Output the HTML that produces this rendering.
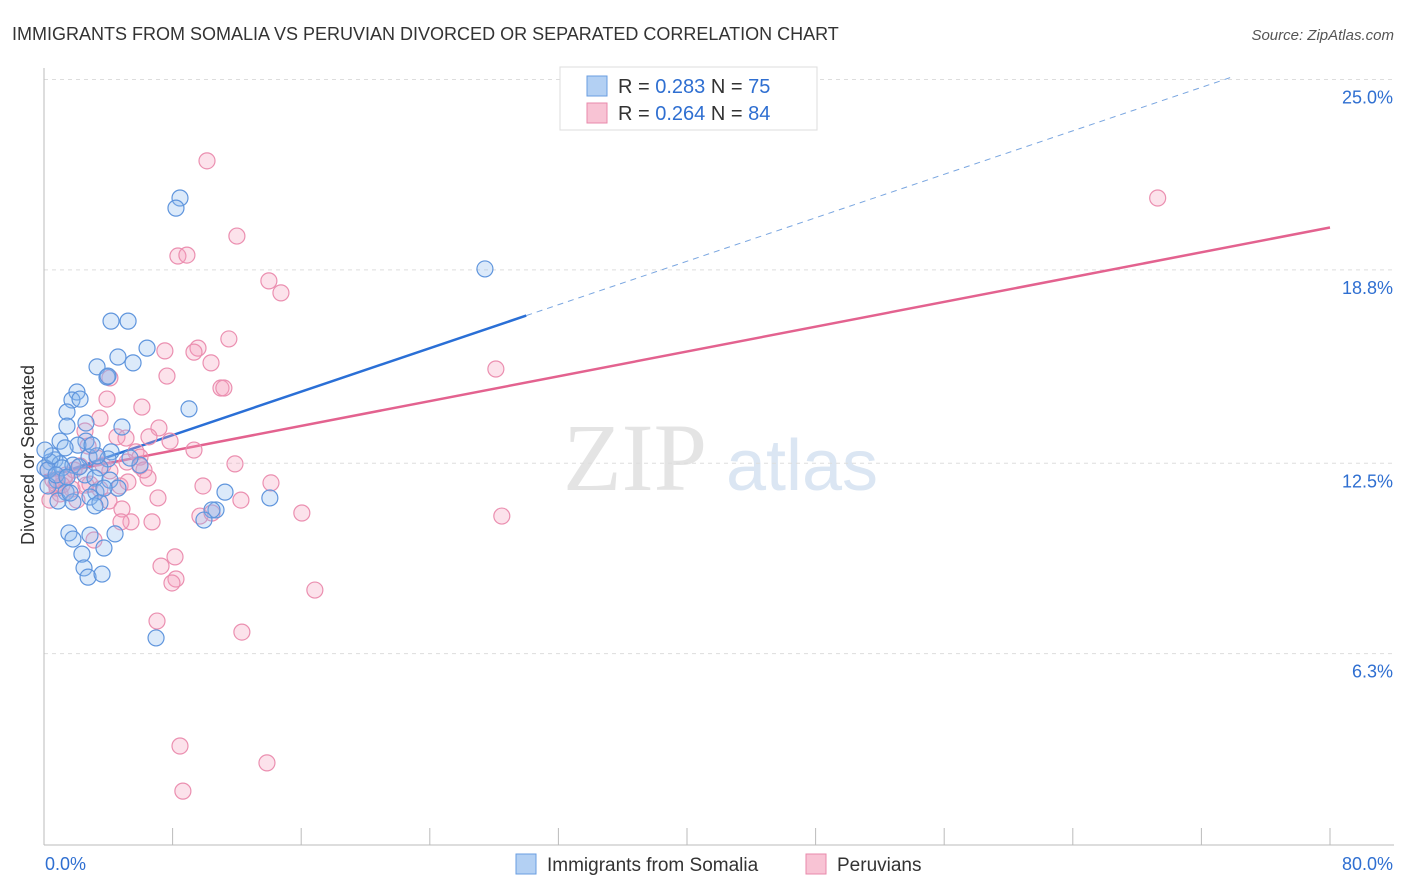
<!DOCTYPE html>
<html><head><meta charset="utf-8"><style>
body{margin:0;background:#fff;font-family:"Liberation Sans",sans-serif}
svg{display:block}
</style></head><body>
<svg id="chart" width="1406" height="892" xmlns="http://www.w3.org/2000/svg">
<text x="12" y="40" font-size="18" fill="#333">IMMIGRANTS FROM SOMALIA VS PERUVIAN DIVORCED OR SEPARATED CORRELATION CHART</text>
<text x="1394" y="40" font-size="15" fill="#555" font-style="italic" text-anchor="end">Source: ZipAtlas.com</text>
<g>
<text x="635" y="490" font-size="96" fill="#e4e4e4" font-family="Liberation Serif,serif" text-anchor="middle">ZIP</text>
<text x="802" y="490" font-size="72" fill="#dbe6f3" text-anchor="middle">atlas</text>
</g>
<g id="grid"></g>
<g id="axes"></g>
<g id="lines"></g>
<g id="points"></g>
<g>
<rect x="560" y="67" width="257" height="63" fill="#fff" stroke="#ddd"/>
<rect x="587" y="76" width="20" height="20" fill="#b3d0f3" stroke="#6a9ee0"/>
<rect x="587" y="103" width="20" height="20" fill="#f8c3d4" stroke="#e88aab"/>
<text x="618" y="93" font-size="20" fill="#333">R = <tspan fill="#2f6fd1">0.283</tspan>   N = <tspan fill="#2f6fd1">75</tspan></text>
<text x="618" y="120" font-size="20" fill="#333">R = <tspan fill="#2f6fd1">0.264</tspan>   N = <tspan fill="#2f6fd1">84</tspan></text>
</g>
<g>
<rect x="516" y="854" width="20" height="20" fill="#b3d0f3" stroke="#6a9ee0"/>
<text x="547" y="871" font-size="19" fill="#333">Immigrants from Somalia</text>
<rect x="806" y="854" width="20" height="20" fill="#f8c3d4" stroke="#e88aab"/>
<text x="837" y="871" font-size="19" fill="#333">Peruvians</text>
</g>
<text transform="translate(34,455) rotate(-90)" font-size="18" fill="#333" text-anchor="middle">Divorced or Separated</text>
</svg>
<script>
const yTicks=[25.0,18.8,12.5,6.3];
const yTickLabels=["25.0%","18.8%","12.5%","6.3%"];
const xTickValues=[0,8,16,24,32,40,48,56,64,72,80];
const xEndLabels=["0.0%","80.0%"];
const blueX=[8.46,8.21,27.43,4.17,5.23,6.41,4.60,5.54,3.30,3.92,2.05,1.74,2.24,9.02,1.43,1.43,4.85,2.61,1.00,2.61,2.11,1.31,4.17,2.80,3.98,0.68,0.37,1.00,1.80,0.06,3.48,5.97,2.55,3.17,0.81,4.10,0.25,4.60,1.37,3.23,2.86,3.48,0.87,1.80,3.17,11.26,14.05,10.70,10.45,9.95,1.55,1.80,4.42,2.86,3.73,2.36,2.49,2.74,3.61,6.97,0.25,0.50,1.12,0.75,2.18,1.43,3.73,3.30,5.35,0.06,3.98,2.99,1.62];
const blueY=[21.14,20.81,18.83,17.13,17.13,16.25,15.96,15.77,15.64,15.31,14.82,14.56,14.59,14.27,14.17,13.71,13.68,13.81,13.22,13.22,13.09,13.00,12.87,12.70,12.64,12.61,12.54,12.48,12.44,12.35,12.35,12.44,12.12,12.02,11.95,11.95,11.76,11.69,11.56,11.56,11.40,11.21,11.27,11.24,11.11,11.56,11.37,10.98,10.98,10.65,10.23,10.03,10.20,10.16,9.74,9.54,9.09,8.79,8.89,6.81,12.28,12.74,12.35,12.12,12.38,12.05,11.69,12.74,12.67,12.93,15.34,13.09,11.53];
const pinkX=[10.14,69.28,12.00,8.33,8.89,13.99,14.74,11.50,9.58,7.52,9.33,10.39,28.11,7.65,4.10,11.01,11.19,3.92,6.09,3.48,2.55,7.15,6.53,4.54,7.84,5.10,9.33,5.72,5.97,5.16,11.88,2.24,5.97,0.25,1.37,6.47,2.86,14.12,4.73,9.89,0.81,1.74,3.48,1.00,7.09,12.25,4.04,0.37,2.05,4.85,16.04,28.48,9.70,6.72,5.41,4.79,10.45,3.11,8.15,7.28,8.21,7.96,16.85,7.03,12.31,8.46,13.87,8.64,1.24,0.75,2.61,1.87,4.10,3.30,3.67,5.22,6.22,2.74,0.56,1.12];
const pinkY=[22.35,21.14,19.90,19.25,19.28,18.44,18.05,16.55,16.25,16.16,16.12,15.77,15.57,15.34,15.28,14.95,14.95,14.59,14.33,13.97,13.55,13.65,13.36,13.36,13.22,13.32,12.93,12.87,12.70,12.54,12.48,12.41,12.41,12.28,12.12,12.02,11.82,11.86,11.76,11.76,11.69,11.66,11.66,11.50,11.37,11.30,11.27,11.30,11.30,11.01,10.88,10.78,10.78,10.59,10.59,10.59,10.88,10.00,9.45,9.15,8.73,8.60,8.37,7.36,7.00,3.29,2.74,1.82,12.02,11.82,11.79,12.28,12.25,12.67,12.44,11.89,12.28,13.06,11.95,11.79];
const blueFit=[12.0,0.177]; // intercept, slope
const pinkFit=[12.1,0.101];
const blueSolidEnd=30, blueDashEnd=73.8, pinkEnd=80;

const NS="http://www.w3.org/2000/svg";
const xS=v=>44+v*(1330-44)/80;
const yS=v=>847-v*30.7;
function mk(tag,attrs,parent){const e=document.createElementNS(NS,tag);for(const k in attrs)e.setAttribute(k,attrs[k]);document.getElementById(parent).appendChild(e);return e;}

yTicks.forEach((t,i)=>{
  const l=mk('line',{x1:44,x2:1394,y1:yS(t),y2:yS(t),stroke:'#ddd','stroke-dasharray':'4,4'},'grid');
  
  
  const tx=mk('text',{x:1393,y:yS(t)+24,'font-size':18,fill:'#2f6fd1','text-anchor':'end'},'axes');
  tx.textContent=yTickLabels[i];
  
  
});
const ax=mk('line',{x1:44,x2:1394,y1:845,y2:845,stroke:'#bbb'},'axes');


const ay=mk('line',{x1:44,x2:44,y1:68,y2:845,stroke:'#bbb'},'axes');


xTickValues.forEach(v=>{
  const t=mk('line',{x1:xS(v),x2:xS(v),y1:828,y2:845,stroke:'#bbb'},'axes');
  
  
});
const xl0=mk('text',{x:45,y:870,'font-size':18,fill:'#2f6fd1'},'axes');xl0.textContent=xEndLabels[0];


const xl1=mk('text',{x:1393,y:870,'font-size':18,fill:'#2f6fd1','text-anchor':'end'},'axes');xl1.textContent=xEndLabels[1];



const f=(fit,x)=>fit[0]+fit[1]*x;
const pl=mk('line',{x1:xS(0),y1:yS(f(pinkFit,0)),x2:xS(pinkEnd),y2:yS(f(pinkFit,pinkEnd)),stroke:'#e3628f','stroke-width':2.5},'lines');


const bd=mk('line',{x1:xS(blueSolidEnd),y1:yS(f(blueFit,blueSolidEnd)),x2:xS(blueDashEnd),y2:yS(f(blueFit,blueDashEnd)),stroke:'#7aa6e0','stroke-width':1,'stroke-dasharray':'6,5'},'lines');


const bl=mk('line',{x1:xS(0),y1:yS(f(blueFit,0)),x2:xS(blueSolidEnd),y2:yS(f(blueFit,blueSolidEnd)),stroke:'#2a6fd6','stroke-width':2.5},'lines');



pinkX.forEach((x,i)=>{
  const c=mk('circle',{cx:xS(x),cy:yS(pinkY[i]),r:8,fill:'rgba(244,160,190,0.3)',stroke:'#eb8fb0','stroke-width':1.2},'points');
  
  
});
blueX.forEach((x,i)=>{
  const c=mk('circle',{cx:xS(x),cy:yS(blueY[i]),r:8,fill:'rgba(140,185,240,0.3)',stroke:'#5f95dd','stroke-width':1.2},'points');
  
  
});
</script>
</body></html>
